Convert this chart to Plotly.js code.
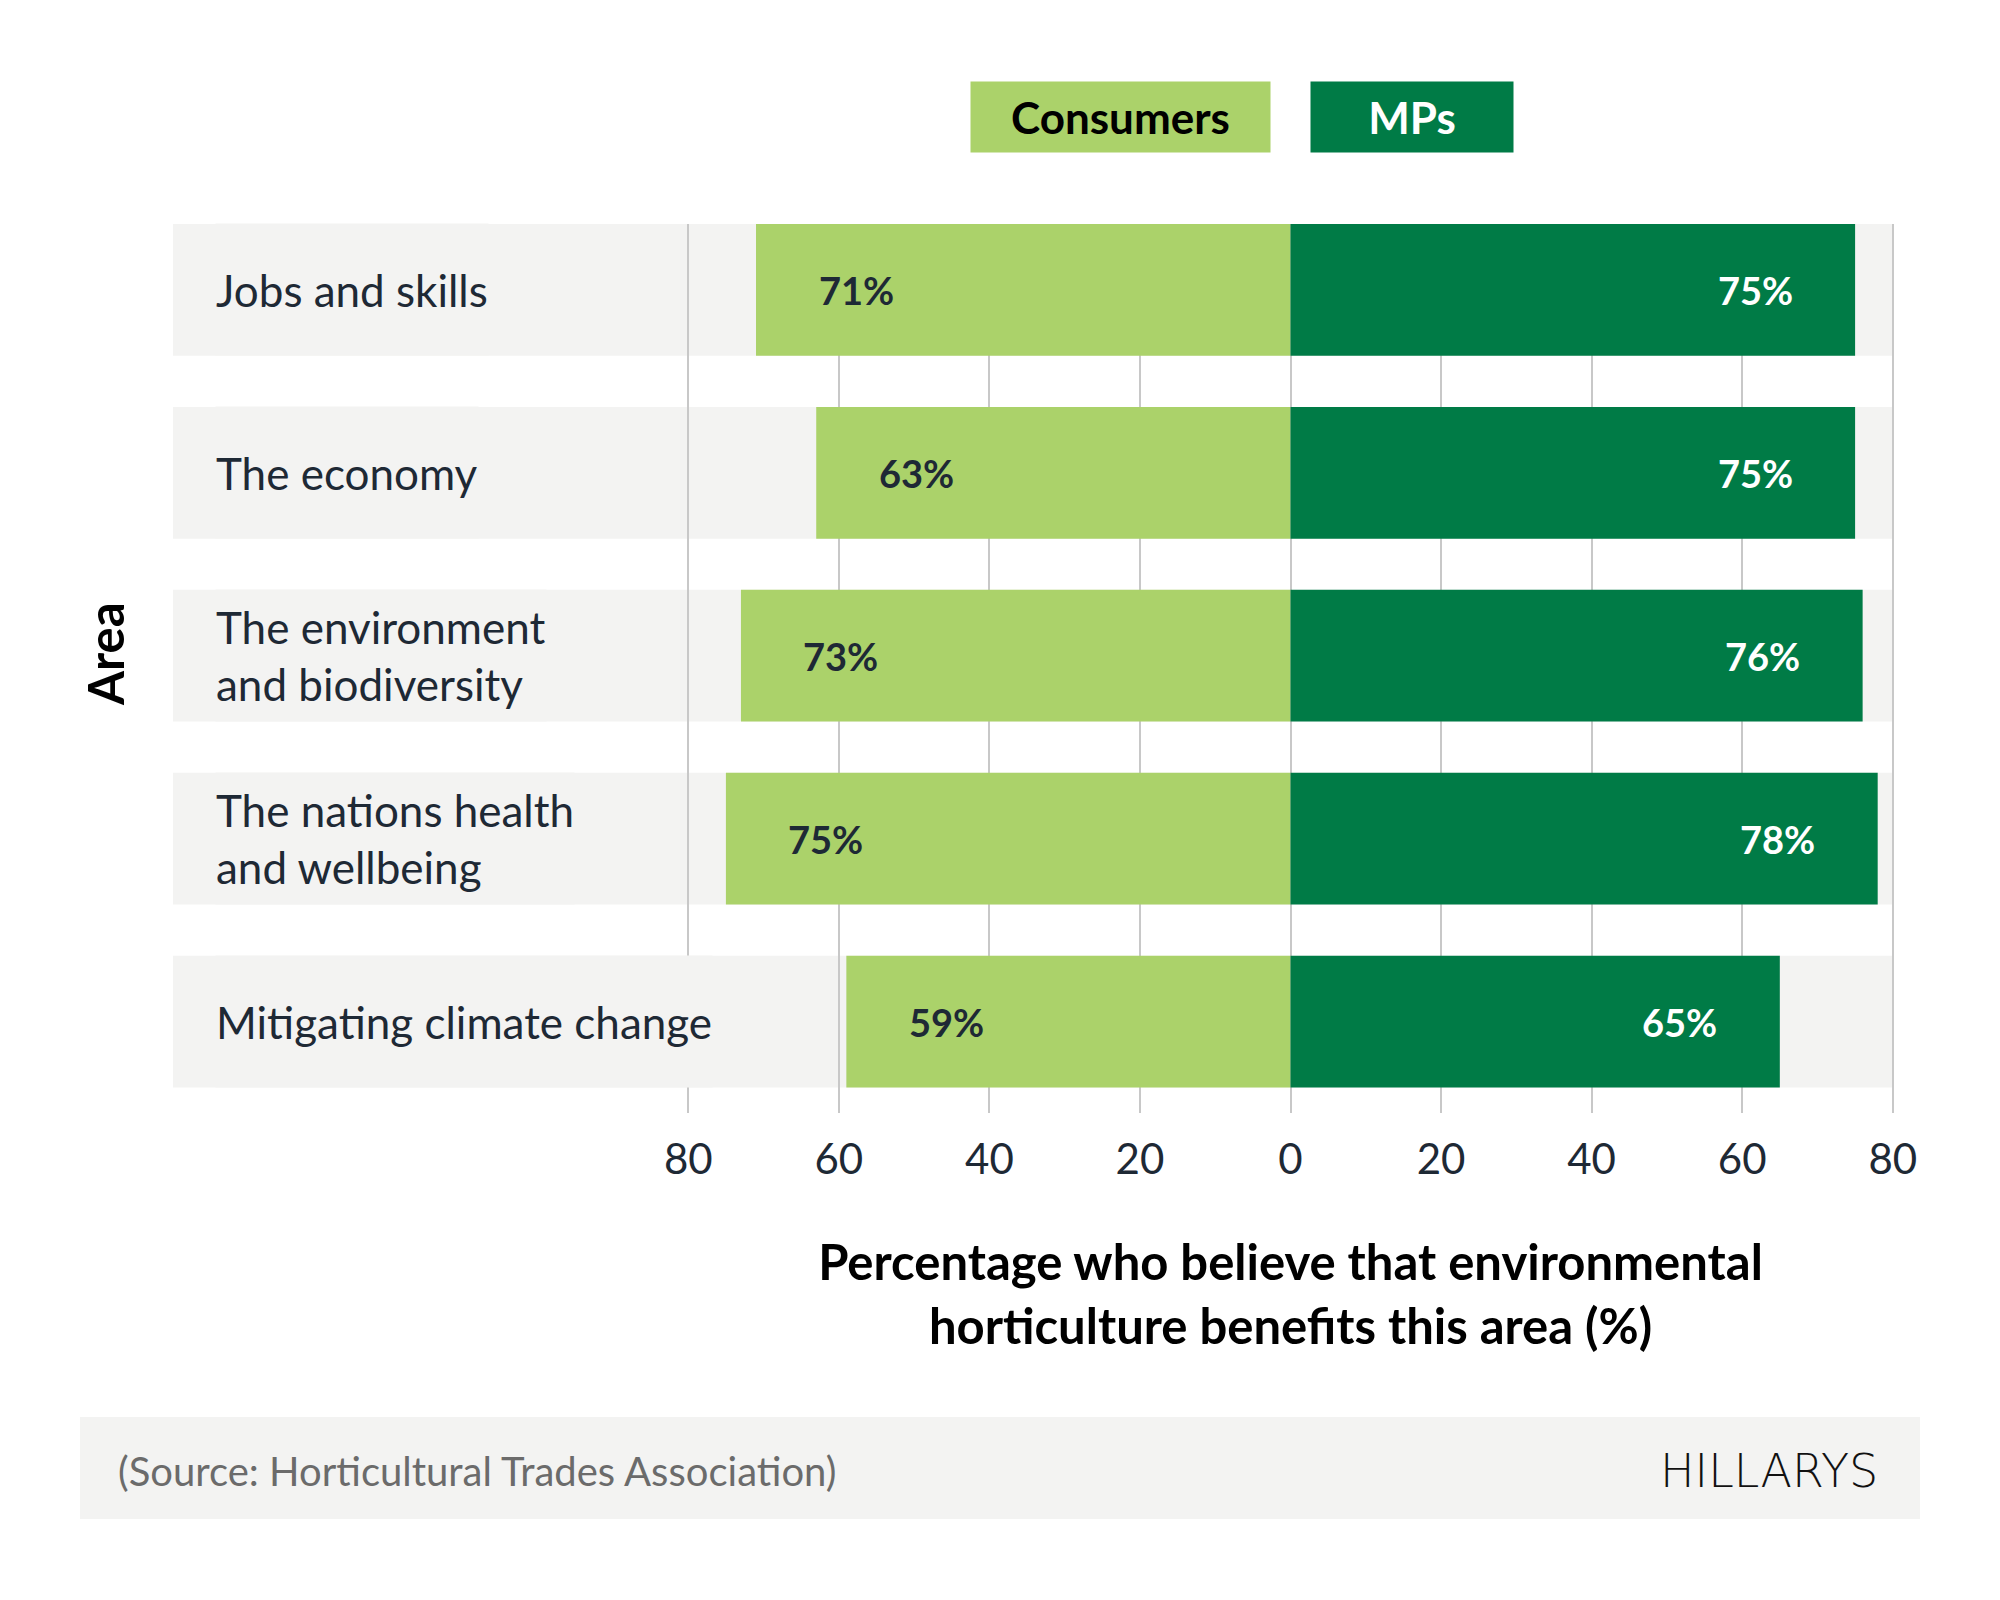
<!DOCTYPE html>
<html>
<head>
<meta charset="utf-8">
<script src="https://cdn.plot.ly/plotly-3.0.1.min.js"></script>
<style>
  html, body { margin: 0; padding: 0; background: #ffffff; }
  #chart { width: 2000px; height: 1600px; }
</style>
</head>
<body>
<div id="chart"></div>
<script>
// Survey areas (top to bottom) and the share of each group who see a benefit (%)
const areas = [
  'Jobs and skills',
  'The economy',
  'The environment<br>and biodiversity',
  'The nations health<br>and wellbeing',
  'Mitigating climate change'
];
const consumers = [71, 63, 73, 75, 59];
const mps = [75, 75, 76, 78, 65];

// Diverging axis: consumers to the left, MPs to the right
const tickValues = [-80, -60, -40, -20, 0, 20, 40, 60, 80];
const tickLabels = ['80', '60', '40', '20', '0', '20', '40', '60', '80'];
const seriesNames = ['Consumers', 'MPs'];

const xTitle = 'Percentage who believe that environmental<br>horticulture benefits this area (%)';
const yTitle = 'Area';
const sourceNote = '(Source: Horticultural Trades Association)';
const brand = 'HILLARYS';

// Styling
const W = 2000, H = 1600;
// a hair of padding past ±80 keeps the outer grid lines from being dropped at the edges
const X_PAD = 0.3;
const M = { l: 686, r: 105, t: 224, b: 487 };
const plotW = W - M.l - M.r;
const plotH = H - M.t - M.b;
const LIGHT = '#abd26a';
const DARK = '#007b46';
const BAND = '#f3f3f2';
const INK = '#1e2935';
const GRID = '#c8c8c8';
const FONT = 'Lato, "Open Sans", sans-serif';
const BAR_FRACTION = 0.72;

// page pixel -> paper coordinate helpers for the decorative layer
const px2x = px => (px - M.l) / plotW;
const px2y = py => (H - M.b - py) / plotH;

const traces = [
  {
    type: 'bar', orientation: 'h', name: seriesNames[0],
    y: areas, x: consumers.map(v => -v),
    marker: { color: LIGHT, line: { width: 0 } },
    hoverinfo: 'skip'
  },
  {
    type: 'bar', orientation: 'h', name: seriesNames[1],
    y: areas, x: mps,
    marker: { color: DARK, line: { width: 0 } },
    hoverinfo: 'skip'
  }
];

const shapes = [];
const annotations = [];

// grey row bands behind each pair of bars, reaching left under the row labels
areas.forEach((a, i) => {
  shapes.push({
    type: 'rect', layer: 'below', xref: 'paper', yref: 'y',
    x0: px2x(173), x1: px2x(1893), y0: i - BAR_FRACTION / 2, y1: i + BAR_FRACTION / 2,
    fillcolor: BAND, line: { width: 0 }
  });
  // row label, boxed in the band colour
  annotations.push({
    xref: 'paper', yref: 'y', x: px2x(215), y: a,
    xanchor: 'left', yanchor: 'middle', align: 'left', valign: 'middle',
    text: a, showarrow: false,
    bgcolor: BAND, borderpad: 0, height: 131,
    font: { family: FONT, size: 44, color: INK }
  });
});

// value labels sitting inside the outer end of each bar
consumers.forEach((v, i) => {
  annotations.push({
    xref: 'x', yref: 'y', x: -v, y: areas[i], xshift: 100,
    xanchor: 'center', yanchor: 'middle', showarrow: false,
    text: v + '%',
    font: { family: FONT, size: 38, weight: 700, color: INK }
  });
});
mps.forEach((v, i) => {
  annotations.push({
    xref: 'x', yref: 'y', x: v, y: areas[i], xshift: -100,
    xanchor: 'center', yanchor: 'middle', showarrow: false,
    text: v + '%',
    font: { family: FONT, size: 38, weight: 700, color: '#ffffff' }
  });
});

// legend as two filled tiles
annotations.push({
  xref: 'paper', yref: 'paper', x: px2x(1120.5), y: px2y(117),
  xanchor: 'center', yanchor: 'middle', showarrow: false,
  text: seriesNames[0], width: 299, height: 70, borderpad: 0,
  bgcolor: LIGHT, align: 'center', valign: 'middle',
  font: { family: FONT, size: 44, weight: 700, color: '#000000' }
});
annotations.push({
  xref: 'paper', yref: 'paper', x: px2x(1412), y: px2y(117),
  xanchor: 'center', yanchor: 'middle', showarrow: false,
  text: seriesNames[1], width: 202, height: 70, borderpad: 0,
  bgcolor: DARK, align: 'center', valign: 'middle',
  font: { family: FONT, size: 44, weight: 700, color: '#ffffff' }
});

// vertical category-axis title
annotations.push({
  xref: 'paper', yref: 'paper', x: px2x(105), y: px2y(654),
  xanchor: 'center', yanchor: 'middle', showarrow: false,
  text: yTitle, textangle: -90,
  font: { family: FONT, size: 49, weight: 700, color: '#000000' }
});

// footer strip with source and brand
shapes.push({
  type: 'rect', layer: 'below', xref: 'paper', yref: 'paper',
  x0: px2x(80), x1: px2x(1920), y0: px2y(1519), y1: px2y(1417),
  fillcolor: BAND, line: { width: 0 }
});
annotations.push({
  xref: 'paper', yref: 'paper', x: px2x(116), y: px2y(1471),
  xanchor: 'left', yanchor: 'middle', showarrow: false,
  text: sourceNote,
  font: { family: FONT, size: 40, color: '#6b6b6b' }
});
annotations.push({
  xref: 'paper', yref: 'paper', x: px2x(1880), y: px2y(1471),
  xanchor: 'right', yanchor: 'middle', showarrow: false,
  text: brand,
  font: { family: '"DejaVu Sans", "Open Sans", sans-serif', size: 46, weight: 200, color: '#111111' }
});

const layout = {
  width: W, height: H,
  margin: M,
  paper_bgcolor: '#ffffff', plot_bgcolor: 'rgba(0,0,0,0)',
  showlegend: false,
  barmode: 'overlay', bargap: 1 - BAR_FRACTION,
  font: { family: FONT, color: INK },
  xaxis: {
    range: [-80 - X_PAD, 80 + X_PAD], fixedrange: true,
    tickvals: tickValues, ticktext: tickLabels, ticks: '',
    ticklabelstandoff: 18,
    tickfont: { family: FONT, size: 42, color: INK },
    showgrid: true, gridcolor: GRID, gridwidth: 2,
    zeroline: true, zerolinecolor: GRID, zerolinewidth: 2,
    showline: false,
    title: {
      text: xTitle, standoff: 63,
      font: { family: FONT, size: 49, weight: 700, color: '#000000' }
    }
  },
  yaxis: {
    type: 'category', range: [4.5, -BAR_FRACTION / 2], fixedrange: true,
    showgrid: false, zeroline: false, showticklabels: false, ticks: '', showline: false
  },
  shapes: shapes,
  annotations: annotations
};

Plotly.newPlot('chart', traces, layout, { displayModeBar: false, staticPlot: true });
</script>
</body>
</html>
